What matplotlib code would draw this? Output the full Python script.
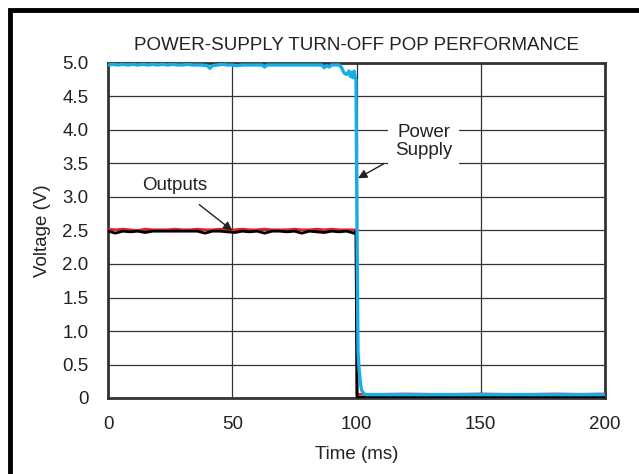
import matplotlib
matplotlib.use('Agg')
import matplotlib.pyplot as plt
from matplotlib.patches import Rectangle

plt.rcParams['font.family'] = ['Liberation Sans', 'DejaVu Sans']

# power supply trace (ms, V)
supply_t = [0, 2, 4, 6, 8, 10, 12, 14, 16, 18, 20, 22, 24, 26, 28, 30, 32, 34, 36, 38,
            40, 41, 42, 44, 46, 48, 50, 52, 54, 56, 58, 60, 62, 63, 64, 66, 68, 70, 72,
            74, 76, 78, 80, 82, 84, 86, 87, 88, 89, 90, 92, 93, 94, 95, 96, 97, 97.5,
            98, 98.5, 99, 99.4, 99.8, 100.2, 100.6, 101, 101.5, 102, 103, 104, 110, 120,
            130, 140, 150, 160, 170, 180, 190, 200]
supply_v = [4.97, 4.98, 4.97, 4.98, 4.97, 4.98, 4.97, 4.98, 4.97, 4.98, 4.97, 4.98,
            4.97, 4.98, 4.97, 4.97, 4.98, 4.97, 4.97, 4.97, 4.96, 4.92, 4.96, 4.97,
            4.98, 4.97, 4.97, 4.96, 4.97, 4.97, 4.97, 4.97, 4.97, 4.94, 4.97, 4.97,
            4.97, 4.97, 4.97, 4.97, 4.97, 4.97, 4.97, 4.97, 4.97, 4.97, 4.93, 4.96,
            4.94, 4.97, 4.97, 4.97, 4.93, 4.85, 4.83, 4.88, 4.80, 4.86, 4.78, 4.88,
            4.80, 4.75, 2.5, 0.70, 0.45, 0.25, 0.12, 0.06, 0.05, 0.05, 0.05, 0.05,
            0.05, 0.05, 0.05, 0.05, 0.05, 0.05, 0.05]

# output traces (ms, V)
out_t = [0, 3, 6, 9, 12, 15, 18, 21, 24, 27, 30, 33, 36, 39, 42, 45, 48, 51, 54, 57,
         60, 63, 66, 69, 72, 75, 78, 81, 84, 87, 90, 93, 96, 99, 99.8, 100.2, 101, 110,
         120, 130, 140, 150, 160, 170, 180, 190, 200]
black_v = [2.49, 2.46, 2.49, 2.48, 2.49, 2.47, 2.49, 2.49, 2.49, 2.49, 2.49, 2.49,
           2.49, 2.46, 2.49, 2.49, 2.48, 2.47, 2.49, 2.48, 2.49, 2.46, 2.49, 2.49,
           2.48, 2.49, 2.46, 2.49, 2.48, 2.47, 2.49, 2.48, 2.49, 2.46, 2.49, 0.02,
           0.01, 0.01, 0.01, 0.01, 0.02, 0.01, 0.01, 0.01, 0.01, 0.01, 0.01]
red_v = [2.52, 2.51, 2.52, 2.51, 2.50, 2.52, 2.51, 2.51, 2.51, 2.52, 2.51, 2.51,
         2.52, 2.51, 2.51, 2.52, 2.51, 2.51, 2.52, 2.51, 2.51, 2.52, 2.51, 2.51,
         2.51, 2.52, 2.51, 2.51, 2.52, 2.51, 2.52, 2.51, 2.51, 2.51, 2.51, 0.05,
         0.055, 0.055, 0.06, 0.055, 0.055, 0.06, 0.055, 0.055, 0.06, 0.055, 0.06]

xticks = [0, 50, 100, 150, 200]
yticks = [0, 0.5, 1.0, 1.5, 2.0, 2.5, 3.0, 3.5, 4.0, 4.5, 5.0]
ylabels = ['0', '0.5', '1.0', '1.5', '2.0', '2.5', '3.0', '3.5', '4.0', '4.5', '5.0']

fs = 13.5
tc = '#222222'

fig = plt.figure(figsize=(6.39, 4.74), dpi=100)
ax = fig.add_axes([108/639, 1-398/474, 497/639, 335/474])

ax.plot(out_t, red_v, color='#e0232b', lw=2.0, zorder=3)
ax.plot(out_t, black_v, color='black', lw=2.0, zorder=4)
ax.plot(supply_t, supply_v, color='#16aee8', lw=2.4, zorder=5)

ax.set_xlim(0, 200)
ax.set_ylim(0, 5.0)
ax.set_xticks(xticks)
ax.set_yticks(yticks)
ax.set_yticklabels(ylabels)
ax.tick_params(length=0, labelsize=fs, colors=tc)
ax.tick_params(axis='x', pad=13)
ax.tick_params(axis='y', pad=14)
ax.grid(True, color='#333333', lw=0.9)
ax.set_axisbelow(True)
for s in ax.spines.values():
    s.set_linewidth(2)
    s.set_color('#333333')

ax.set_xlabel('Time (ms)', fontsize=fs, labelpad=9, color=tc)
ax.set_ylabel('Voltage (V)', fontsize=fs, labelpad=8, color=tc)
ax.set_title('POWER-SUPPLY TURN-OFF POP PERFORMANCE', fontsize=fs, pad=9, color=tc)

ax.annotate('Outputs', xy=(50, 2.5), xytext=(27, 3.17), fontsize=fs,
            ha='center', va='center', color=tc,
            arrowprops=dict(arrowstyle='-|>', color=tc, lw=1,
                            mutation_scale=13, shrinkA=9, shrinkB=0))
ax.annotate('Power\nSupply', xy=(100.6, 3.28), xytext=(127, 3.83), fontsize=fs,
            ha='center', va='center', color=tc, linespacing=1.05,
            bbox=dict(boxstyle='square,pad=0.35', fc='white', ec='none'),
            arrowprops=dict(arrowstyle='-|>', color=tc, lw=1,
                            mutation_scale=13, shrinkA=4, shrinkB=0), zorder=6)

# outer frame, cropped at right and bottom
fig.patches.append(Rectangle((10/639, -0.1), 1.2, 1 - 10/474 + 0.1,
                             transform=fig.transFigure, fill=False,
                             ec='black', lw=3.5))

fig.savefig('out.png', dpi=100)
